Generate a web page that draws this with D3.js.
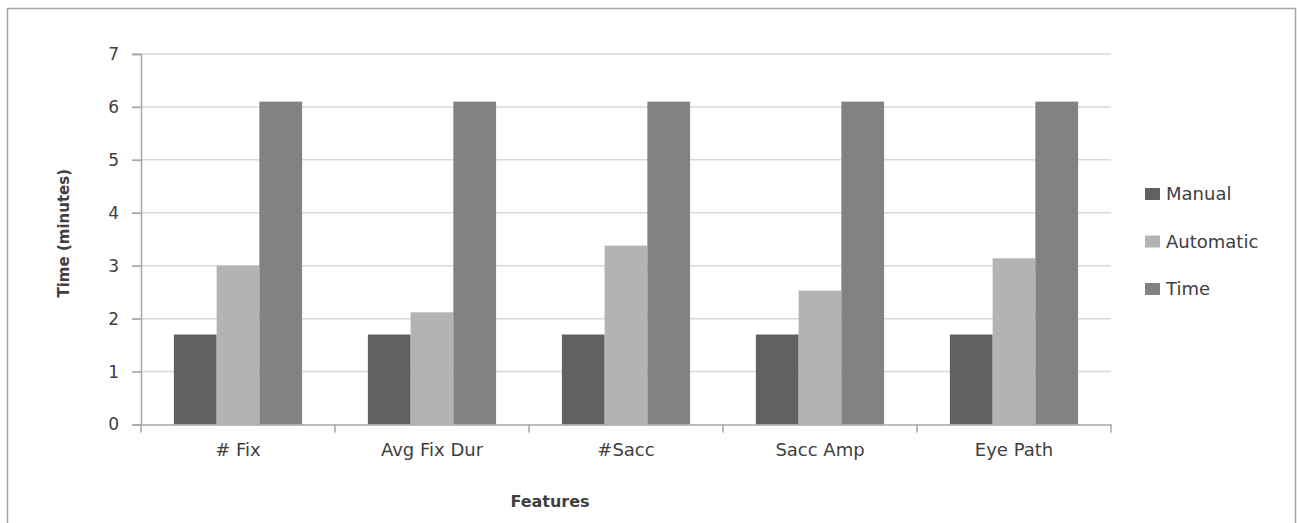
<!DOCTYPE html>
<html>
<head>
<meta charset="utf-8">
<script src="https://cdn.jsdelivr.net/npm/d3@7/dist/d3.min.js"></script>
<style>
  html, body { margin: 0; padding: 0; background: #fff; }
  svg { display: block; }
  text { font-family: "DejaVu Sans", "Liberation Sans", sans-serif; fill: #404040; }
</style>
</head>
<body>
<svg id="chart" width="1297" height="523"></svg>
<script>
// Feature categories along the x axis
const categories = ["# Fix", "Avg Fix Dur", "#Sacc", "Sacc Amp", "Eye Path"];
// Series names and their values (minutes)
const seriesNames = ["Manual", "Automatic", "Time"];
const manual    = [1.7, 1.7, 1.7, 1.7, 1.7];
const automatic = [3.0, 2.12, 3.38, 2.53, 3.14];
const timeVals  = [6.1, 6.1, 6.1, 6.1, 6.1];
const yTicks = [0, 1, 2, 3, 4, 5, 6, 7];
const colors = ["#616161", "#b3b3b3", "#828282"];

const seriesValues = [manual, automatic, timeVals];

const svg = d3.select("#chart");

// outer frame
svg.append("rect")
  .attr("x", 7.5).attr("y", 8.5)
  .attr("width", 1288).attr("height", 530)
  .attr("fill", "none").attr("stroke", "#a6a6a6").attr("stroke-width", 1.5);

const plotLeft = 141, plotRight = 1111, plotTop = 54, plotBottom = 424.5;

const x = d3.scaleBand().domain(categories).range([plotLeft, plotRight]).paddingInner(0).paddingOuter(0);
const inner = d3.scaleBand().domain(seriesNames).range([0, x.bandwidth()]).paddingInner(0).paddingOuter(0.77);
const y = d3.scaleLinear().domain([0, 7]).range([plotBottom, plotTop]);

// gridlines
svg.append("g")
  .selectAll("line")
  .data(yTicks.filter(d => d > 0))
  .join("line")
  .attr("x1", plotLeft - 9).attr("x2", plotRight)
  .attr("y1", d => y(d)).attr("y2", d => y(d))
  .attr("stroke", "#d9d9d9").attr("stroke-width", 1.5);

// bars
const groups = svg.append("g")
  .selectAll("g")
  .data(seriesNames)
  .join("g")
  .attr("fill", (d, i) => colors[i]);

groups.selectAll("rect")
  .data((s, si) => categories.map((c, ci) => ({ c, s, v: seriesValues[si][ci] })))
  .join("rect")
  .attr("x", d => x(d.c) + inner(d.s))
  .attr("width", inner.bandwidth())
  .attr("y", d => y(d.v))
  .attr("height", d => y(0) - y(d.v));

// y axis
const yAxis = d3.axisLeft(y).tickValues(yTicks).tickSize(9).tickPadding(13).tickFormat(d3.format("d"));
const gy = svg.append("g").attr("transform", `translate(${plotLeft},0)`).call(yAxis);
gy.select(".domain").attr("stroke", "#a6a6a6").attr("stroke-width", 1.5);
gy.selectAll(".tick line").attr("stroke", "#a6a6a6").attr("stroke-width", 1.5);
gy.selectAll(".tick text").style("font-size", "17px").attr("fill", "#404040");

// x axis
const xAxis = d3.axisBottom(x).tickSize(0).tickPadding(19);
const gx = svg.append("g").attr("transform", `translate(0,${plotBottom})`).call(xAxis);
gx.select(".domain").attr("stroke", "#a6a6a6").attr("stroke-width", 1.5);
gx.selectAll(".tick text").style("font-size", "18px").attr("fill", "#404040");
// boundary ticks between categories
gx.append("g").selectAll("line")
  .data(categories.map(c => x(c)).concat([plotRight]))
  .join("line")
  .attr("x1", d => d).attr("x2", d => d)
  .attr("y1", 0).attr("y2", 8)
  .attr("stroke", "#a6a6a6").attr("stroke-width", 1.5);

// axis titles
svg.append("text")
  .attr("transform", `translate(69,${(plotTop + plotBottom) / 2 - 6}) rotate(-90)`)
  .attr("text-anchor", "middle")
  .style("font-size", "15px").style("font-weight", "bold")
  .attr("fill", "#222")
  .text("Time (minutes)");

svg.append("text")
  .attr("x", 550).attr("y", 507)
  .attr("text-anchor", "middle")
  .style("font-size", "16px").style("font-weight", "bold")
  .attr("fill", "#222")
  .text("Features");

// legend
const legend = svg.append("g")
  .selectAll("g")
  .data(seriesNames)
  .join("g")
  .attr("transform", (d, i) => `translate(1145,${194 + i * 47.5})`);
legend.append("rect")
  .attr("x", 0).attr("y", -6).attr("width", 15).attr("height", 12)
  .attr("fill", (d, i) => colors[i]);
legend.append("text")
  .attr("x", 21).attr("y", 0).attr("dy", "0.36em")
  .style("font-size", "18px")
  .attr("fill", "#333")
  .text(d => d);
</script>
</body>
</html>
